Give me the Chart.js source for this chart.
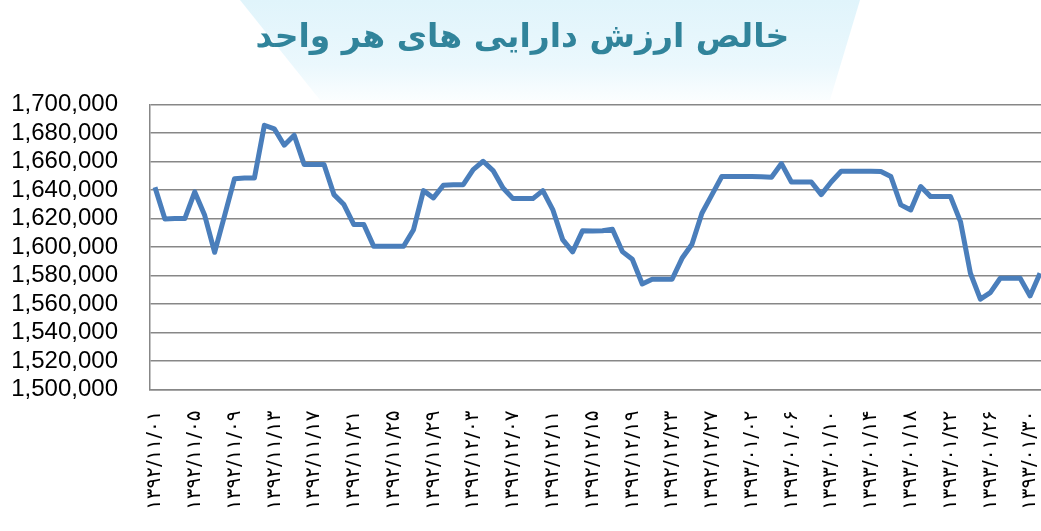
<!DOCTYPE html>
<html><head><meta charset="utf-8">
<script src="https://cdn.jsdelivr.net/npm/chart.js@4.4.1/dist/chart.umd.min.js"></script>
<style>
html,body{margin:0;padding:0;overflow:hidden;background:#fff;width:1041px;height:531px;position:relative;}
#bg{position:absolute;left:0;top:0;width:1041px;height:110px;
 background:linear-gradient(180deg,#e0f4fb 0%,#ebf8fd 60%,rgba(255,255,255,0) 100%);
 clip-path:polygon(240px 0,860px 0,830px 100px,320px 100px);}
#wrap{position:absolute;left:0;top:0;width:1045px;height:531px;}
</style></head><body>
<div id="bg"></div>
<div id="wrap"><canvas id="c"></canvas></div>
<script>
const titleText = 'خالص ارزش دارایی های هر واحد';

const dates = [
 '1392/11/01','1392/11/02','1392/11/03','1392/11/04','1392/11/05','1392/11/06','1392/11/07','1392/11/08','1392/11/09','1392/11/10',
 '1392/11/11','1392/11/12','1392/11/13','1392/11/14','1392/11/15','1392/11/16','1392/11/17','1392/11/18','1392/11/19','1392/11/20',
 '1392/11/21','1392/11/22','1392/11/23','1392/11/24','1392/11/25','1392/11/26','1392/11/27','1392/11/28','1392/11/29','1392/11/30',
 '1392/12/01','1392/12/02','1392/12/03','1392/12/04','1392/12/05','1392/12/06','1392/12/07','1392/12/08','1392/12/09','1392/12/10',
 '1392/12/11','1392/12/12','1392/12/13','1392/12/14','1392/12/15','1392/12/16','1392/12/17','1392/12/18','1392/12/19','1392/12/20',
 '1392/12/21','1392/12/22','1392/12/23','1392/12/24','1392/12/25','1392/12/26','1392/12/27','1392/12/28','1392/12/29',
 '1393/01/01','1393/01/02','1393/01/03','1393/01/04','1393/01/05','1393/01/06','1393/01/07','1393/01/08','1393/01/09','1393/01/10',
 '1393/01/11','1393/01/12','1393/01/13','1393/01/14','1393/01/15','1393/01/16','1393/01/17','1393/01/18','1393/01/19','1393/01/20',
 '1393/01/21','1393/01/22','1393/01/23','1393/01/24','1393/01/25','1393/01/26','1393/01/27','1393/01/28','1393/01/29','1393/01/30',
 '1393/01/31'
];

const navValues = [
 1642000,1619700,1620000,1620000,1638700,1622300,1596300,1622000,1648000,1648500,
 1648500,1685500,1683000,1671500,1678500,1658000,1658000,1658000,1636800,1629800,
 1615800,1615800,1600500,1600500,1600500,1600500,1612200,1639600,1634500,1643400,
 1643800,1643800,1654400,1660200,1653700,1641500,1634000,1634000,1634000,1639600,
 1626300,1605200,1596600,1611500,1611300,1611500,1612500,1596800,1591400,1574100,
 1577400,1577400,1577400,1592100,1602000,1623700,1636600,1649500,1649500,1649500,
 1649500,1649300,1649000,1658600,1645700,1645700,1645700,1636800,1645700,1653200,
 1653200,1653200,1653200,1653000,1649500,1629600,1626000,1642500,1635400,1635400,
 1635400,1617900,1581600,1563400,1568000,1578100,1578100,1578100,1565700,1581600
];

const yMin = 1500000, yMax = 1700000, yStep = 20000;
const labelEvery = 4;

const faDigits = '۰۱۲۳۴۵۶۷۸۹';
const toFa = s => s.replace(/[0-9]/g, d => faDigits[+d]);

new Chart(document.getElementById('c'), {
  type: 'line',
  data: {
    labels: dates,
    datasets: [{
      data: navValues,
      borderColor: '#4a7ebb',
      borderWidth: 5,
      pointRadius: 0,
      tension: 0,
      borderJoinStyle: 'round',
      fill: false
    }]
  },
  options: {
    responsive: true,
    maintainAspectRatio: false,
    animation: false,
    devicePixelRatio: 1,
    layout: { padding: 0 },
    plugins: {
      legend: { display: false },
      tooltip: { enabled: false },
      title: {
        display: true,
        text: titleText,
        color: '#31849b',
        font: { family: "'DejaVu Sans', sans-serif", size: 33, weight: 'bold', lineHeight: 1.2 },
        padding: { top: 19, bottom: 46 }
      }
    },
    scales: {
      x: {
        type: 'category',
        offset: true,
        grid: { display: false, drawTicks: false },
        border: { display: true, color: '#878787', width: 1.5 },
        ticks: {
          autoSkip: false,
          maxRotation: 90,
          minRotation: 90,
          padding: 21,
          color: '#000',
          font: { family: "'DejaVu Sans', sans-serif", size: 20 },
          callback: (v, i) => i % labelEvery === 0 ? toFa(dates[i]) : ''
        },
        afterFit: s => { s.height = 141.5; s.paddingLeft = 0; s.paddingRight = 0; }
      },
      y: {
        min: yMin, max: yMax,
        grid: { color: '#878787', lineWidth: 1.5, drawTicks: false },
        border: { display: true, color: '#878787', width: 1.5 },
        ticks: {
          stepSize: yStep,
          autoSkip: false,
          padding: 32,
          color: '#000',
          font: { family: "'Liberation Sans', Arial, sans-serif", size: 24, lineHeight: 1 },
          callback: v => v.toLocaleString('en-US')
        },
        afterFit: s => { s.width = 150; }
      }
    }
  }
});
</script>
</body></html>
